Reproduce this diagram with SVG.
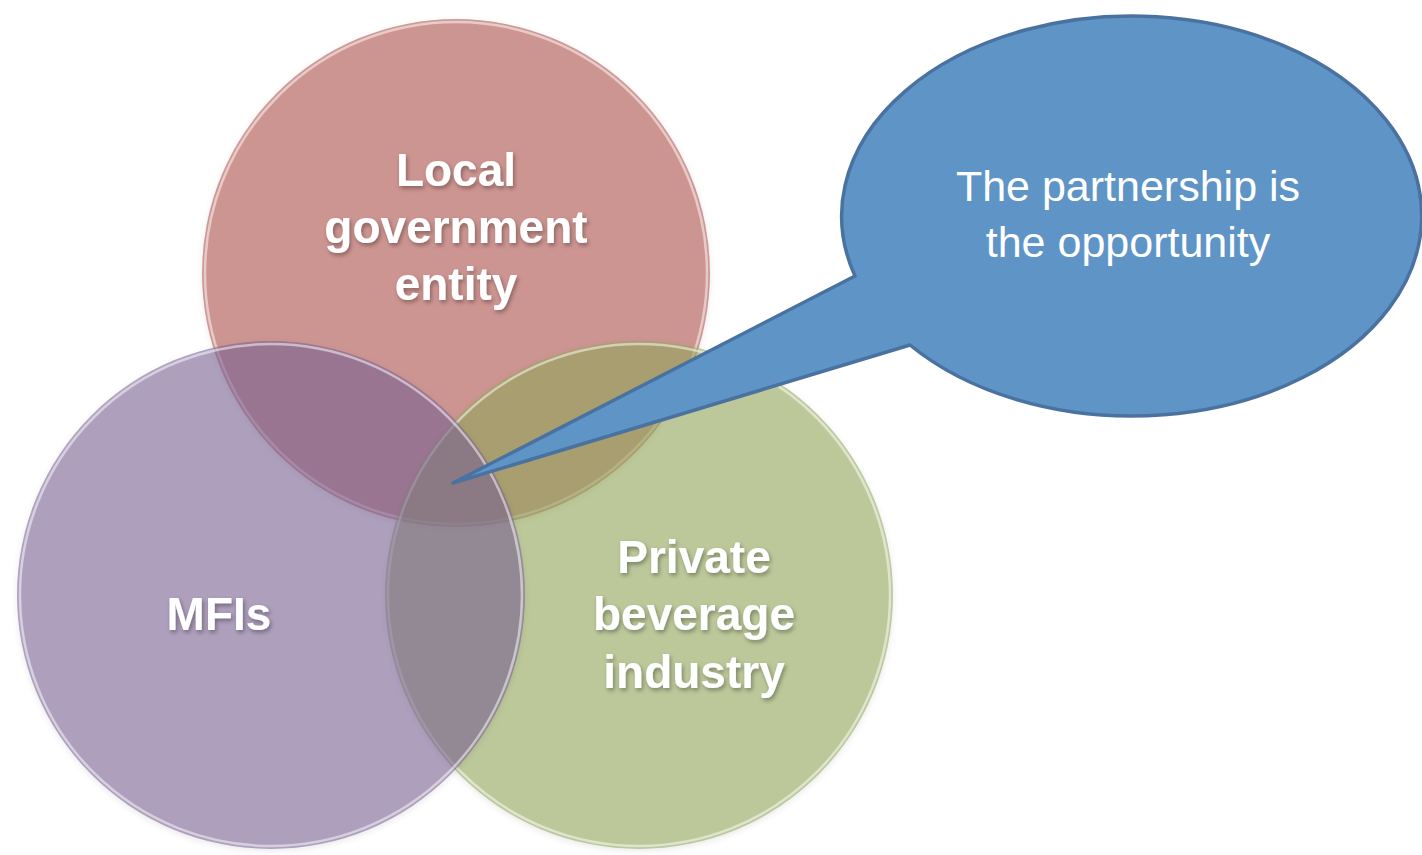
<svg xmlns="http://www.w3.org/2000/svg" width="1422" height="855" viewBox="0 0 1422 855">
<defs>
<style>
.lbl{font-family:"Liberation Sans",Arial,sans-serif;font-weight:bold;font-size:46px;fill:#ffffff;text-anchor:middle;filter:url(#ts)}
.co{font-family:"Liberation Sans",Arial,sans-serif;font-size:43px;fill:#ffffff;text-anchor:middle}
.rim{fill:none;stroke:#ffffff;stroke-opacity:0.5;stroke-width:2.5}
.c{fill-opacity:0.57;filter:url(#cs)}
</style>
<filter id="ts" x="-20%" y="-40%" width="140%" height="180%">
<feDropShadow dx="1.5" dy="2.5" stdDeviation="2" flood-color="#000000" flood-opacity="0.35"/>
</filter>
<filter id="cs" x="-10%" y="-10%" width="120%" height="120%">
<feDropShadow dx="0" dy="2" stdDeviation="3" flood-color="#000000" flood-opacity="0.15"/>
</filter>
</defs>
<rect width="1422" height="855" fill="#ffffff"/>
<g id="node-local">
<circle class="c" cx="456" cy="273" r="254" fill="#b1524b"/>
<circle cx="456" cy="273" r="251" class="rim"/>
</g>
<g id="node-private">
<circle class="c" cx="639" cy="595" r="254" fill="#94a85a"/>
<circle cx="639" cy="595" r="251" class="rim"/>
</g>
<g id="node-mfis">
<circle class="c" cx="271" cy="595" r="254" fill="#7b6296"/>
<circle cx="271" cy="595" r="251" class="rim"/>
</g>
<g id="labels">
<text class="lbl" x="456" y="186">Local</text>
<text class="lbl" x="456" y="243">government</text>
<text class="lbl" x="456" y="300">entity</text>
<text class="lbl" x="219" y="630">MFIs</text>
<text class="lbl" x="694" y="573">Private</text>
<text class="lbl" x="694" y="630">beverage</text>
<text class="lbl" x="694" y="688">industry</text>
</g>
<g id="node-callout">
<path d="M 855 276 L 453 483 L 910 345 A 290 200 0 1 0 855 276 Z" fill="#5f94c7" stroke="#4a72a0" stroke-width="3.5" stroke-linejoin="round"/>
<text class="co" x="1128" y="201">The partnership is</text>
<text class="co" x="1128" y="257">the opportunity</text>
</g>
<g id="connectors"></g>
</svg>
